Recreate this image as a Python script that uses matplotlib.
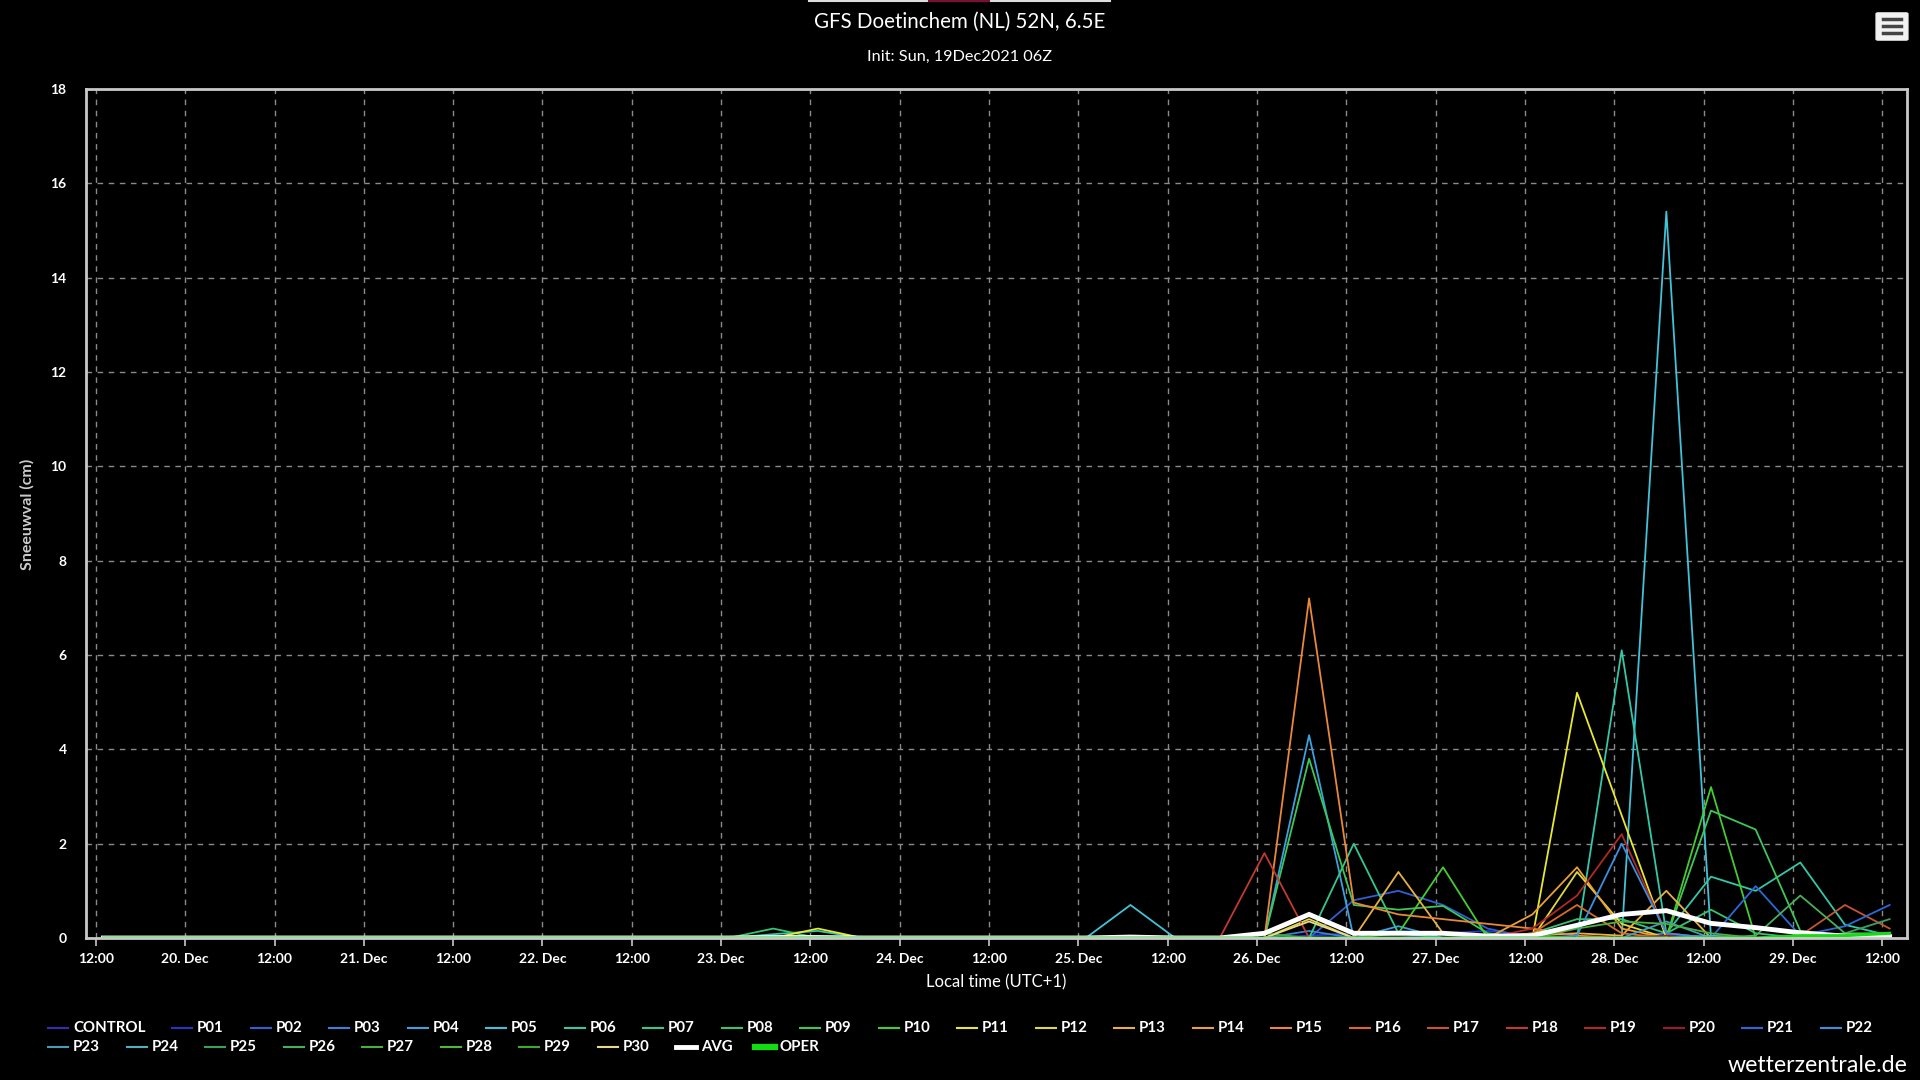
import matplotlib
matplotlib.use('Agg')
import matplotlib.pyplot as plt
import matplotlib.dates as mdates
from matplotlib.patches import FancyBboxPatch
from matplotlib.lines import Line2D
from matplotlib.ticker import FuncFormatter, MultipleLocator
import pandas as pd

plt.rcParams['font.family'] = ['Lato', 'DejaVu Sans']

# tijdstippen (lokale tijd, UTC+1), elke 6 uur
times = pd.date_range('2021-12-19 13:00', '2021-12-29 13:00', freq='6h')

# sneeuwval per run (cm)
#          19/13 ............................. 22/19 | 23/01 ......................................................................... 29/13
control = [0,0,0,0,0,0,0,0,0,0,0,0,0,0, 0,0,0,0,0,0,0,0,0,0,0,0,0,0,0,0,0.1,0.05,0,0,0,0,0,0,0,0,0]
p01 = [0,0,0,0,0,0,0,0,0,0,0,0,0,0, 0,0,0,0,0,0,0,0,0,0,0,0,0,0.05,0.1,0.15,0.1,0.15,0.05,0,0,0,0,0,0,0,0]
p02 = [0,0,0,0,0,0,0,0,0,0,0,0,0,0, 0,0,0,0,0,0,0,0,0,0,0,0,0,0,0.8,1.0,0.7,0.2,0,0,0,0,0,0,0,0,0]
p03 = [0,0,0,0,0,0,0,0,0,0,0,0,0,0, 0,0,0,0,0,0,0,0,0,0,0,0,0,0.15,0,0,0,0,0,0,0,0.1,0,0,0,0,0]
p04 = [0,0,0,0,0,0,0,0,0,0,0,0,0,0, 0,0,0,0,0,0,0,0,0,0,0,0,0,4.3,0,0.25,0,0,0,0,0,0,0,0,0,0,0]
p05 = [0,0,0,0,0,0,0,0,0,0,0,0,0,0, 0,0,0,0,0,0,0,0,0,0.7,0,0,0,0,0,0,0,0,0,0,0,15.4,0,0,0,0,0]
p06 = [0,0,0,0,0,0,0,0,0,0,0,0,0,0, 0,0.08,0.15,0,0,0,0,0,0,0,0,0,0,0,0,0,0,0,0,0,6.1,0.1,1.3,1.0,1.6,0.28,0.05]
p07 = [0,0,0,0,0,0,0,0,0,0,0,0,0,0, 0,0,0,0,0,0,0,0,0,0,0,0,0,0,2.0,0.1,0,0,0,0,0,0,0,0,0,0,0]
p08 = [0,0,0,0,0,0,0,0,0,0,0,0,0,0, 0,0.2,0,0,0,0,0,0,0,0,0,0,0,0,0,0,0,0,0.1,0.4,0.4,0.1,0.6,0.1,0,0,0]
p09 = [0,0,0,0,0,0,0,0,0,0,0,0,0,0, 0,0,0,0,0,0,0,0,0,0,0,0,0,3.8,0.7,0.6,0.68,0.1,0,0,0,0,2.7,2.3,0.15,0.05,0]
p10 = [0,0,0,0,0,0,0,0,0,0,0,0,0,0, 0,0,0,0,0,0,0,0,0,0,0,0,0,0,0,0.1,1.5,0,0,0,0,0,3.2,0,0,0,0]
p11 = [0,0,0,0,0,0,0,0,0,0,0,0,0,0, 0,0,0.2,0,0,0,0,0,0,0,0,0,0,0,0,0,0,0,0,5.2,2.6,0,0,0,0,0,0]
p12 = [0,0,0,0,0,0,0,0,0,0,0,0,0,0, 0,0,0,0,0,0,0,0,0,0,0,0,0,0.4,0,0,0,0,0,1.4,0.3,0,0,0,0,0,0]
p13 = [0,0,0,0,0,0,0,0,0,0,0,0,0,0, 0,0,0,0,0,0,0,0,0,0,0,0,0,0,0,1.4,0.1,0,0.05,0.1,0.05,1.0,0,0,0,0,0]
p14 = [0,0,0,0,0,0,0,0,0,0,0,0,0,0, 0,0,0,0,0,0,0,0,0,0,0,0,0,0,0,0,0,0,0.5,1.5,0.2,0,0,0,0,0,0]
p15 = [0,0,0,0,0,0,0,0,0,0,0,0,0,0, 0,0,0,0,0,0,0,0,0,0,0,0,0,7.2,0.75,0.5,0.4,0.3,0.2,0.05,0,0,0,0,0,0,0]
p16 = [0,0,0,0,0,0,0,0,0,0,0,0,0,0, 0,0,0,0,0,0,0,0,0,0,0,0,0,0,0,0,0,0,0.1,0.7,0.1,0,0,0,0,0,0]
p17 = [0,0,0,0,0,0,0,0,0,0,0,0,0,0, 0,0,0,0,0,0,0,0,0,0,0,0,0,0,0,0,0,0,0,0,0,0,0,0,0.05,0.7,0.2]
p18 = [0,0,0,0,0,0,0,0,0,0,0,0,0,0, 0,0,0,0,0,0,0,0,0,0,0,0,1.8,0,0,0,0,0,0,0,0,0,0,0,0,0,0]
p19 = [0,0,0,0,0,0,0,0,0,0,0,0,0,0, 0,0,0,0,0,0,0,0,0,0,0,0,0,0,0,0,0,0,0.2,0.9,2.2,0.1,0,0,0,0,0]
p20 = [0,0,0,0,0,0,0,0,0,0,0,0,0,0, 0,0,0,0,0,0,0,0,0,0,0,0,0,0,0,0,0,0,0,0,0,0.05,0,0,0,0,0]
p21 = [0,0,0,0,0,0,0,0,0,0,0,0,0,0, 0,0,0,0,0,0,0,0,0,0,0,0,0,0,0,0,0,0,0,0,0,0,0,1.1,0.05,0.25,0.7]
p22 = [0,0,0,0,0,0,0,0,0,0,0,0,0,0, 0,0,0,0,0,0,0,0,0,0,0,0,0,0,0,0,0,0,0,0.05,2.0,0.1,0,0,0,0,0]
p23 = [0,0,0,0,0,0,0,0,0,0,0,0,0,0, 0,0,0,0,0,0,0,0,0,0,0,0,0,0,0,0,0,0,0,0,0,0.35,0,0,0,0,0]
p24 = [0,0,0,0,0,0,0,0,0,0,0,0,0,0, 0,0,0,0,0,0,0,0,0,0,0,0,0,0,0,0,0,0,0,0,0,0,0.05,0,0,0,0]
p25 = [0,0,0,0,0,0,0,0,0,0,0,0,0,0, 0,0,0,0,0,0,0,0,0,0,0,0,0,0,0,0,0,0,0,0,0,0,0,0,0,0.1,0.4]
p26 = [0,0,0,0,0,0,0,0,0,0,0,0,0,0, 0,0,0,0,0,0,0,0,0,0,0,0,0,0,0,0,0,0,0,0,0,0,0,0.05,0.9,0.1,0.1]
p27 = [0,0,0,0,0,0,0,0,0,0,0,0,0,0, 0,0,0,0,0,0,0,0,0,0,0,0,0,0,0,0,0,0,0,0.2,0.35,0.3,0.1,0,0,0,0]
p28 = [0,0,0,0,0,0,0,0,0,0,0,0,0,0, 0,0,0,0,0,0,0,0,0,0,0,0,0,0,0,0,0,0,0.05,0,0,0,0,0,0,0,0]
p29 = [0,0,0,0,0,0,0,0,0,0,0,0,0,0, 0,0,0,0,0,0,0,0,0,0,0,0,0.1,0,0,0,0,0,0,0,0,0,0,0,0,0,0]
p30 = [0,0,0,0,0,0,0,0,0,0,0,0,0,0, 0,0,0,0,0,0,0,0,0,0,0,0,0,0.35,0,0,0,0,0,0,0,0,0,0,0,0,0]
avg = [0,0,0,0,0,0,0,0,0,0,0,0,0,0, 0,0.01,0.01,0,0,0,0,0,0,0.02,0,0,0.1,0.5,0.1,0.1,0.1,0.04,0.05,0.27,0.5,0.58,0.31,0.22,0.11,0.04,0.03]
oper = [0,0,0,0,0,0,0,0,0,0,0,0,0,0, 0,0,0,0,0,0,0,0,0,0,0,0,0,0,0,0,0,0,0,0,0,0,0,0,0.05,0.05,0.1]

members = [control, p01, p02, p03, p04, p05, p06, p07, p08, p09, p10,
           p11, p12, p13, p14, p15, p16, p17, p18, p19, p20,
           p21, p22, p23, p24, p25, p26, p27, p28, p29, p30]
names = ['CONTROL'] + ['P%02d' % i for i in range(1, 31)]
colors = ['#3b2bb0', '#2338c0', '#2f5fd0', '#3a80d8', '#3aa2de', '#42c2d8',
          '#33c8a8', '#33c890', '#38c272', '#3cc858', '#44cc30',
          '#e8e830', '#e0d840', '#e8b040', '#e8a038', '#e88838', '#d86a28',
          '#c85530', '#c03a30', '#b02828', '#a01830',
          '#2a6ad8', '#3a90e0', '#4a9ab8', '#50b0c0', '#3aa060', '#48b058',
          '#48b040', '#50b838', '#40a830', '#e8d890']

ticks = pd.date_range('2021-12-19 12:00', '2021-12-29 12:00', freq='12h')

fig = plt.figure(figsize=(19.2, 10.8), dpi=100, facecolor='black')
ax = fig.add_axes([86/1920, 1-938/1080, (1907-86)/1920, (938-89)/1080])
ax.set_facecolor('black')

for vals, c in zip(members, colors):
    ax.plot(times, vals, color=c, lw=1.3)
ax.plot(times, avg, color='white', lw=3.5, solid_joinstyle='miter')
ax.plot(times, oper, color='#11dd11', lw=2.2)

ax.set_xlim(pd.Timestamp('2021-12-19 10:40'), pd.Timestamp('2021-12-29 15:20'))
ax.set_ylim(0, 18)
ax.yaxis.set_major_locator(MultipleLocator(2))
ax.set_xticks(ticks)

def xfmt(v, pos):
    d = mdates.num2date(v)
    if d.hour == 12:
        return '12:00'
    return '%d. Dec' % d.day
ax.xaxis.set_major_formatter(FuncFormatter(xfmt))

ax.grid(True, color='#8a8a8a', linestyle=(0, (4, 4)), linewidth=1)
for s in ax.spines.values():
    s.set_color('#c8c8c8')
    s.set_linewidth(2)
ax.tick_params(axis='x', colors='#c8c8c8', length=6, width=1.2, pad=5,
               labelcolor='white', labelsize=10)
ax.tick_params(axis='y', length=0, pad=14, labelcolor='white', labelsize=10)
for lbl in ax.get_xticklabels() + ax.get_yticklabels():
    lbl.set_fontweight('bold')

fig.text(27/1920, 1-514/1080, 'Sneeuwval (cm)', rotation=90, ha='center', va='center',
         color='#cccccc', fontsize=11.5, fontweight='bold')
fig.text(996/1920, 1-982/1080, 'Local time (UTC+1)', ha='center', va='center',
         color='white', fontsize=12)

fig.text(0.5, 1-22/1080, 'GFS Doetinchem (NL) 52N, 6.5E', ha='center', va='center',
         color='white', fontsize=14.8)
fig.text(0.5, 1-57/1080, 'Init: Sun, 19Dec2021 06Z', ha='center', va='center',
         color='white', fontsize=11.7)
fig.text(1907/1920, 1-1066/1080, 'wetterzentrale.de', ha='right', va='center',
         color='white', fontsize=16.7)

# balkje bovenaan
fig.add_artist(Line2D([809/1920, 1110/1920], [1-1/1080, 1-1/1080], color='#dddddd', lw=1.5))
fig.add_artist(Line2D([929/1920, 989/1920], [1-1/1080, 1-1/1080], color='#7a1030', lw=1.5))

# menu knop
fig.add_artist(FancyBboxPatch((1878/1920, 1-39/1080), 28/1920, 25/1080,
                              boxstyle='round,pad=0.001', facecolor='#f2f2f2',
                              edgecolor='#f2f2f2', transform=fig.transFigure))
for yy in [19, 26, 33]:
    fig.add_artist(Line2D([1883/1920, 1901/1920], [1-yy/1080, 1-yy/1080], color='#444444', lw=2.5))

# legenda
leg_names = names + ['AVG', 'OPER']
leg_colors = colors + ['white', '#11dd11']
for i, (nm, c) in enumerate(zip(leg_names, leg_colors)):
    if i < 23:
        row, col = 0, i
        x = 48 + col*78.5 + (45.5 if col > 0 else 0)
    else:
        row, col = 1, i - 23
        x = 48 + col*78.5
    y = 1 - (1028 + row*19)/1080
    lw = 1.5
    if nm == 'AVG':
        lw = 3.5
    if nm == 'OPER':
        lw = 4.5
    fig.add_artist(Line2D([x/1920, (x+20)/1920], [y, y], color=c, lw=lw))
    fig.text((x+25)/1920, y, nm, ha='left', va='center', color='white',
             fontsize=10.8, fontweight='bold')

fig.savefig('out.png', dpi=100, facecolor='black')
